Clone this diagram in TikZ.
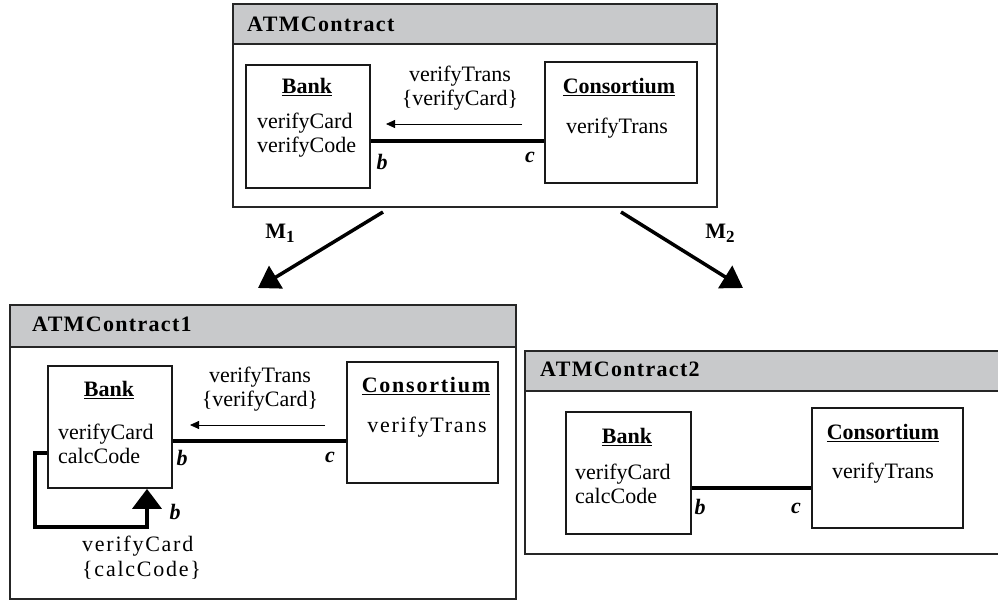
\documentclass[tikz,border=0pt]{standalone}
\usepackage{fontspec}
\setmainfont{Liberation Serif}
\usetikzlibrary{arrows.meta}
\definecolor{hdrgray}{RGB}{200,201,203}
\newcommand\ulabel[1]{\setbox0\hbox{#1}\rlap{\rule[-3pt]{\wd0}{1.3pt}}\box0}
\newcommand\spaced{\addfontfeature{LetterSpace=8}}
\tikzset{
  every node/.style={font=\fontsize{22}{24}\selectfont},
  frame/.style={draw=black!85, line width=1.5pt, fill=white, rectangle, inner sep=0pt, anchor=north west},
  header/.style={draw=black!85, line width=1.5pt, fill=hdrgray, rectangle, inner sep=0pt, anchor=north west},
  hdrtext/.style={anchor=west, inner sep=0pt, font=\fontsize{22}{24}\selectfont\bfseries\addfontfeature{LetterSpace=6}},
  objbox/.style={draw=black!90, line width=1.7pt, rectangle, inner sep=0pt},
  objtitle/.style={inner sep=0pt, font=\fontsize{22}{24}\selectfont\bfseries},
  ops/.style={inner sep=0pt, anchor=west, align=left},
  msglabel/.style={inner sep=0pt, align=center},
  role/.style={inner sep=0pt, font=\fontsize{22}{24}\selectfont\bfseries\itshape},
  assoc/.style={line width=3.5pt},
  msgarrow/.style={line width=0.8pt, -{Triangle[length=9pt,width=8pt]}},
  maparrow/.style={line width=3.5pt, -{Triangle[length=21pt,width=26pt]}},
  maplabel/.style={inner sep=0pt, font=\fontsize{22}{24}\selectfont\bfseries},
  selfloop/.style={line width=3.8pt, -{Triangle[length=20pt,width=29pt]}},
}
\begin{document}
\begin{tikzpicture}[x=1pt,y=-1pt]
\useasboundingbox (0,0) rectangle (998,600);

% ---------- ATMContract ----------
\node[frame, minimum width=484pt, minimum height=203pt] (f0) at (232,3) {};
\node[header, minimum width=484pt, minimum height=40pt] (h0) at (232,3) {};
\node[hdrtext] (t0) at (247,24) {ATMContract};
\node[objbox, minimum width=124pt, minimum height=123pt] (bank0) at (308,126.5) {};
\node[objbox, minimum width=152pt, minimum height=121pt] (cons0) at (621,122.5) {};
\node[objtitle] (bank0t) at (307,87) {\ulabel{Bank}};
\node[ops] (bank0o) at (257,135) {verifyCard\\verifyCode};
\node[objtitle] (cons0t) at (619,87) {\ulabel{Consortium}};
\node[inner sep=0pt] (cons0o) at (617,128) {verifyTrans};
\coordinate (a0) at (0,141);
\draw[assoc] (bank0.east |- a0) -- (cons0.west |- a0);
\coordinate (m0s) at (522,124);
\coordinate (m0e) at (386,124);
\draw[msgarrow] (m0s) -- (m0e);
\node[msglabel] (m0l) at (460,88.5) {verifyTrans\\\{verifyCard\}};
\node[role] (b0) at (382,162) {b};
\node[role] (c0) at (530,157) {c};

% ---------- mappings ----------
\coordinate (map1s) at (383,212);
\coordinate (map1e) at (258,288);
\coordinate (map2s) at (621,212);
\coordinate (map2e) at (743,288);
\draw[maparrow] (map1s) -- (map1e);
\draw[maparrow] (map2s) -- (map2e);
\node[maplabel] (ml1) at (280,233) {M\raisebox{-4pt}{\fontsize{17}{17}\selectfont 1}};
\node[maplabel] (ml2) at (720,233) {M\raisebox{-4pt}{\fontsize{17}{17}\selectfont 2}};

% ---------- ATMContract1 ----------
\node[frame, minimum width=506pt, minimum height=294pt] (f1) at (9,304) {};
\node[header, minimum width=506pt, minimum height=42pt] (h1) at (9,304) {};
\node[hdrtext] (t1) at (32,324) {ATMContract1};
\node[objbox, minimum width=124pt, minimum height=122pt] (bank1) at (110,427) {};
\node[objbox, minimum width=151pt, minimum height=121pt] (cons1) at (422.5,422.5) {};
\node[objtitle] (bank1t) at (109,390) {\ulabel{Bank}};
\node[ops] (bank1o) at (58,444) {verifyCard\\calcCode};
\node[objtitle, font=\fontsize{22}{24}\selectfont\bfseries\spaced] (cons1t) at (426,386) {\ulabel{Consortium}};
\node[inner sep=0pt, font=\fontsize{22}{24}\selectfont\spaced] (cons1o) at (427,427) {verifyTrans};
\coordinate (a1) at (0,441);
\draw[assoc] (bank1.east |- a1) -- (cons1.west |- a1);
\coordinate (m1s) at (325,425);
\coordinate (m1e) at (190,425);
\draw[msgarrow] (m1s) -- (m1e);
\node[msglabel] (m1l) at (260,389.5) {verifyTrans\\\{verifyCard\}};
\node[role] (b1) at (182,458) {b};
\node[role] (c1) at (330,457) {c};
% self call on Bank
\coordinate (s1) at (0,453);
\coordinate (s2) at (35,527);
\coordinate (s3) at (147,0);
\draw[selfloop] (bank1.west |- s1) -- (s2 |- s1) -- (s2) -- (s3 |- s2) -- (s3 |- bank1.south);
\node[role] (b1s) at (175,512) {b};
\node[ops, font=\fontsize{22}{25}\selectfont\spaced] (s1l) at (82,557.5) {verifyCard\\\{calcCode\}};

% ---------- ATMContract2 ----------
\node[frame, minimum width=480pt, minimum height=203pt] (f2) at (524,350) {};
\node[header, minimum width=480pt, minimum height=40pt] (h2) at (524,350) {};
\node[hdrtext] (t2) at (540,369) {ATMContract2};
\node[objbox, minimum width=125pt, minimum height=122pt] (bank2) at (628.5,473) {};
\node[objbox, minimum width=151pt, minimum height=120pt] (cons2) at (887.5,468) {};
\node[objtitle] (bank2t) at (627,437) {\ulabel{Bank}};
\node[ops] (bank2o) at (575,484) {verifyCard\\calcCode};
\node[objtitle] (cons2t) at (883,433) {\ulabel{Consortium}};
\node[inner sep=0pt] (cons2o) at (883,473) {verifyTrans};
\coordinate (a2) at (0,488);
\draw[assoc] (bank2.east |- a2) -- (cons2.west |- a2);
\node[role] (b2) at (700,507) {b};
\node[role] (c2) at (796,508) {c};
\end{tikzpicture}
\end{document}
